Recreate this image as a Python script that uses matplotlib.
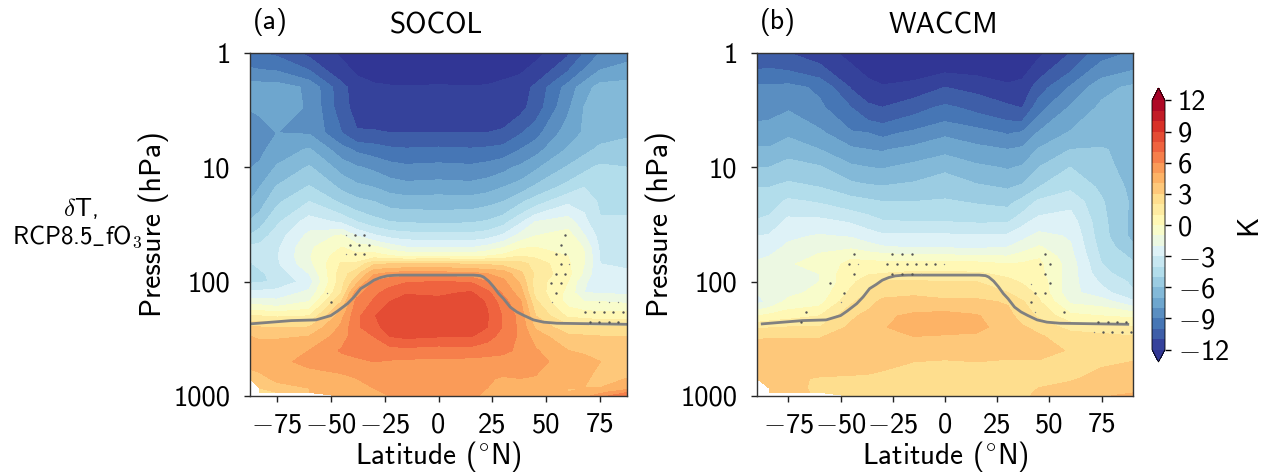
import numpy as np
import matplotlib
matplotlib.use('Agg')
import matplotlib.pyplot as plt

# cmss10 ships with matplotlib, same sans face as the original
plt.rcParams['font.family'] = ['cmss10', 'Lato', 'DejaVu Sans']
plt.rcParams['mathtext.fontset'] = 'cm'
plt.rcParams['axes.formatter.use_mathtext'] = True

nan = np.nan

# pressure levels (hPa), shared by both panels
plev = [1, 2, 3, 5, 7, 10, 15, 20, 30, 40, 50, 60, 70, 85, 100, 125, 150, 200,
        250, 300, 400, 500, 700, 850, 925, 1000]

lat_socol = [-87.5, -83, -75, -60, -45, -38, -30, -22.5, -15, 0, 15, 22.5, 30, 38, 45, 60, 67.5, 75, 87.5]
lat_waccm = [-90, -84, -75, -60, -45, -37, -30, -15, 0, 15, 30, 37, 45, 60, 75, 90]

# temperature change, one list per latitude, top of atmosphere first
dT_socol = [
    [-9.8, -7.5, -7.9, -9.1, -8.5, -8.05, -7.3, -7, -5.9, -4.9, -3.8, -3.9, -4.1, -4.4, -4.2, -2.8, -1.5, 1.2, 3.0, 4, 4.4, 4.5, 3.2, nan, nan, nan],
    [-10.0, -7.5, -7.7, -8.8, -8.3, -7.8, -7.0, -6.5, -5.4, -4.5, -3.7, -3.6, -3.8, -4.2, -4.1, -2.7, -1.5, 1.0, 3.0, 3.9, 4.3, 4.6, 3.6, 3.0, 2.9, nan],
    [-10.2, -7.5, -7.6, -8.0, -7.5, -6.9, -5.9, -5.2, -4.2, -3.5, -3.2, -3.1, -3.2, -3.6, -3.9, -2.5, -1.8, 0.8, 2.9, 3.9, 4.4, 4.8, 4.3, 3.5, 3, nan],
    [-11.3, -8.2, -8.1, -8.1, -6.9, -5.9, -4.9, -4.0, -2.5, -1.7, -1.2, -1.1, -1.3, -2.0, -2.5, -1.8, -1, 1.0, 3.0, 4, 5, 5.2, 4.6, 4, 4, nan],
    [-12.2, -10.7, -10.6, -10, -8.6, -7.4, -6.2, -5.2, -3.2, -0.8, 0, 0.6, 1.1, 1.5, 1.6, 2.0, 3, 4.7, 5.2, 5.5, 6.1, 5.6, 4.7, 4.5, 4.4, 4.2],
    [-12.7, -11.5, -11.4, -10.9, -9.2, -7.9, -6.7, -5.7, -4, -2.0, -0.5, 0.3, 1.2, 2.6, 3.6, 5.5, 6.3, 6.7, 6.8, 6.6, 6.3, 5.8, 5, 4.8, 4.7, 4.6],
    [-13, -11.8, -11.6, -10.9, -9.5, -8.2, -7, -6.0, -4.6, -2.8, -0.8, 0.5, 2.8, 4.8, 6.0, 6.8, 7.1, 7.9, 7.6, 7, 6.4, 6, 5.1, 5, 4.9, 4.8],
    [-13.1, -11.9, -11.6, -11, -9.8, -8.6, -7.4, -6.4, -5, -3.3, -1.5, 0.1, 3, 5.2, 6.7, 7.3, 8.0, 8.7, 8.5, 8.0, 6.5, 5.9, 5.4, 5.2, 5.1, 5],
    [-13.2, -11.9, -11.6, -11, -9.9, -8.8, -7.6, -6.5, -5.1, -3.5, -2, -0.2, 3, 5.5, 6.9, 7.9, 8.4, 8.9, 8.7, 8.2, 6.6, 5.8, 5.6, 5.4, 5.3, 5.2],
    [-13, -11.9, -11.5, -11, -9.8, -8.7, -7.5, -6.5, -5.2, -3.6, -2, -0.1, 3.2, 5.4, 7, 7.8, 8.3, 8.95, 8.5, 8.05, 6.4, 5.8, 5.6, 5.4, 5.3, 5.2],
    [-13.2, -11.9, -11.5, -11, -9.9, -8.8, -7.6, -6.5, -5.1, -3.6, -2.1, -0.3, 2.8, 5.2, 6.9, 8.1, 8.5, 8.9, 8.5, 8.05, 6.5, 5.7, 5.4, 5.3, 5.2, 5.1],
    [-13, -11.9, -11.5, -11, -9.8, -8.6, -7.4, -6.3, -4.9, -3.4, -1.7, 0, 2.8, 5, 6, 7.3, 7.9, 8.1, 8.0, 7.4, 6.3, 5.7, 5.1, 5, 4.9, 4.9],
    [-12.8, -11.7, -11.4, -10.9, -9.6, -8.3, -7, -6.0, -4.4, -2.8, -1.1, 0.3, 2.6, 4.6, 5.2, 5.8, 6.4, 6.9, 6.9, 6.6, 6.2, 5.6, 4.9, 4.8, 4.8, 4.7],
    [-12.6, -11.5, -11.3, -10.1, -9, -7.8, -6.5, -5.2, -3.2, -1.6, -0.2, 1.0, 2.4, 3.2, 3.8, 4.5, 5.1, 5.6, 5.7, 5.8, 5.8, 5.6, 5, 4.8, 4.7, 4.6],
    [-12.3, -10.8, -10.6, -9.4, -8.4, -7.2, -5.8, -4.5, -2.0, -1.0, 0, 0.8, 1.6, 1.8, 1.5, 1.6, 2.2, 3.0, 3.8, 4.5, 5.1, 5.4, 4.9, 4.6, 4.5, 4.4],
    [-11.2, -8.6, -8.2, -7.5, -6.9, -5.9, -4.6, -3.2, -1.5, -0.5, 0, 0, 0.2, 0.3, 0, -0.3, -0.4, 0.8, 2.3, 3.2, 4, 4.4, 4.4, 4, 4, 4],
    [-10, -7.5, -7.0, -6.9, -6.3, -5.3, -4, -3.3, -2.7, -1.9, -1.1, -0.9, -1.0, -1.2, -1.9, -2.0, -1, 0.7, 2.2, 3.1, 3.9, 4.2, 4.1, 4, 4.2, 4.6],
    [-9, -6.6, -6.5, -6.4, -5.8, -4.8, -4.4, -4.2, -3.9, -3.4, -3.2, -3.1, -3, -2.9, -2.4, -2.1, -1, 0.5, 2, 3, 3.8, 4, 3.8, 4, 4.6, 5.5],
    [-8.4, -6.5, -6.5, -6.2, -5.5, -5, -4.5, -4.4, -3.8, -3.5, -3.3, -3.2, -3.1, -2.9, -2.6, -2.2, -1.2, 0.6, 2, 3, 3.8, 4.0, 4, 4.4, 5.8, 7],
]

dT_waccm = [
    [-10.8, -8.8, -8.5, -7.5, -6.9, -6.0, -5.0, -4.6, -3.9, -3, -2.5, -2.1, -1.9, -1.8, -1.9, -2.0, -2.3, 0.0, 1.8, 2.8, 3.6, 3.9, 3.2, nan, nan, nan],
    [-10.7, -8.8, -8.4, -7.5, -6.9, -6.0, -5.0, -4.5, -3.7, -2.9, -2.4, -2.0, -1.7, -1.6, -1.7, -1.8, -1.8, 0.3, 1.9, 2.9, 3.7, 3.9, 3.5, 3.2, 3.1, nan],
    [-11, -8.7, -8.1, -7.2, -6.4, -5.6, -4.7, -3.8, -2.7, -2.2, -1.8, -1.4, -1.1, -1.1, -1.2, -1.3, -0.7, 0.6, 2.0, 2.9, 3.6, 3.8, 3.2, 3.3, 3.4, nan],
    [-11.6, -9.2, -8.8, -7.8, -7, -5.9, -5.0, -4.1, -2.7, -1.9, -1.2, -0.9, -0.7, -1.0, -1.0, -0.7, -0.4, 1, 2, 2.9, 3.6, 3.8, 2.9, 2.8, 2.8, nan],
    [-12.3, -11.1, -10, -8.9, -7.8, -6.8, -5.6, -4.6, -3.1, -2.1, -1.2, -0.2, 0.3, 0.8, 0.8, 1.2, 1.8, 2.8, 3.2, 3.5, 3.8, 3.7, 2.8, 2.6, 2.6, 2.5],
    [-12.8, -11.6, -10.8, -9, -8, -7, -5.8, -4.8, -3.5, -2.5, -1.6, -0.4, 0.3, 0.9, 1.4, 2.0, 2.6, 3.3, 3.6, 3.7, 3.7, 3.5, 2.8, 2.7, 2.7, 2.6],
    [-13, -11.9, -11, -9.3, -8.1, -7.1, -5.9, -5.0, -3.9, -2.8, -1.9, -0.6, 0.3, 1.0, 2.2, 2.7, 3.2, 3.8, 3.9, 3.8, 3.5, 3.2, 2.8, 2.8, 2.8, 2.8],
    [-13.2, -11.6, -10.4, -8.8, -7.7, -6.7, -5.7, -5, -4, -2.8, -2.1, -0.8, 0.3, 1.2, 2.1, 2.8, 3.4, 4.2, 4.5, 4, 3.4, 3.0, 2.8, 2.8, 2.8, 2.8],
    [-13, -11.0, -9.8, -8.2, -7.3, -6.2, -5.4, -4.9, -4, -2.8, -2.1, -0.8, 0.3, 1.2, 2.0, 2.6, 3.2, 4.4, 4.4, 3.9, 3.4, 2.9, 2.7, 2.7, 2.7, 2.8],
    [-13, -11.3, -10.3, -8.6, -7.7, -6.8, -5.8, -5.1, -4.1, -2.9, -2.2, -0.9, 0.3, 1.1, 2.0, 2.6, 3.2, 4.1, 4.3, 3.8, 3.3, 3.0, 2.8, 2.8, 2.8, 2.9],
    [-13.0, -11.8, -10.8, -9.1, -8, -7.1, -6.1, -5.3, -4.1, -2.8, -2.0, -1, 0, 0.8, 1.2, 2, 2.9, 3.3, 3.5, 3.5, 3.3, 2.9, 2.6, 2.6, 2.7, 2.8],
    [-12.7, -11.7, -11.05, -8.9, -7.8, -6.9, -5.8, -4.7, -3.3, -2.3, -1.5, -0.6, 0.1, 0.6, 0.9, 1.4, 2.1, 2.6, 3.1, 3.4, 3.4, 2.9, 2.7, 2.7, 2.8, 2.9],
    [-12.2, -10.5, -9.4, -7.9, -6.9, -6, -5, -3.8, -2.6, -1.7, -0.9, -0.1, 0.2, 0.3, 0.6, 0.8, 1.1, 1.8, 2.7, 3.1, 3.4, 2.9, 2.8, 3.0, 3.1, 3.1],
    [-11, -8.9, -7.9, -6.9, -6, -5, -4.2, -3.3, -2.5, -2.1, -1.9, -1.7, -1.5, -1.5, -1.6, -1.7, -1.2, 0.3, 1.6, 2.5, 2.9, 2.8, 2.9, 3.2, 3.3, 3.3],
    [-9.4, -7.3, -6.8, -6.6, -5.9, -5.7, -5.2, -4.9, -4.7, -4.6, -4.4, -4.2, -4, -3.7, -3.2, -2.6, -1.5, 0, 1.3, 2.3, 2.8, 2.9, 3.2, 3.4, 3.5, 3.7],
    [-8.9, -6.8, -6.6, -6.5, -6.4, -6.4, -6.3, -6.2, -6.3, -6.3, -5.8, -5.2, -4.9, -4.6, -4.2, -3.9, -2.8, -0.2, 1, 2, 2.8, 3, 3.2, 3.5, 3.8, 4.6],
]

# tropopause
trop_lat = [-87.5, -68.3, -56.9, -50, -46.9, -42.3, -39.2, -36.1, -33, -30, -26.9, -23.8, -20.7, -17.6,
            16.4, 19.4, 20.9, 23.3, 25.6, 27.9, 30.2, 33.3, 36.4, 39.5, 44.1, 48.8, 54.9, 87.5]
trop_p = [234, 219, 216, 198, 181, 156, 136, 115, 106, 97, 92, 89, 88, 87.6,
          87.6, 88.6, 91, 99, 111, 127, 141, 167, 184, 197, 216, 226, 231, 236]

# stippling, big dots and the faint small ones
dots_a_lat = [-38.9, -34.6, -41.2, -36.7, -32.3, -38.9, -34.6, -50, 58.8, 56.8, 54.5, 58.8, 56.8, 54.5, 58.8, 52.2, 56.8, 54.5,
              67.9, 72.4, 76.9, 81.2, 85.8, 70.1, 74.5, 79, 83.5]
dots_a_p = [39, 39, 48, 48, 48, 57.6, 57.6, 152, 39, 48, 57.6, 57.6, 70, 85, 85, 103, 103, 125,
            184, 184, 184, 184, 184, 225, 225, 225, 225]
faint_a_lat = [-43, -43, -51.9, 60.8, 52.6, 74.5, 79, 83.5]
faint_a_p = [39, 57.6, 125, 70, 152, 152, 152, 152]

dots_b_lat = [-43.7, -25.2, -20.6, -16, 47.9, -45.9, -27.6, -23, -18.4, -13.8, -9.2, -4.6, 45.7, 50.3,
              -43.7, -25.2, -20.6, -16, 47.9, -55, 50.3, -48.3, 43.3, 47.9, 41, -66.5, 57.1, -68.9,
              73.3, 77.8, 82.2, 86.8, 75.4, 80, 84.6, 89.2]
dots_b_p = [57.6, 57.6, 57.6, 57.6, 57.6, 70, 70, 70, 70, 70, 70, 70, 70, 70,
            85, 85, 85, 85, 85, 103, 103, 125, 125, 125, 152, 184, 184, 225,
            225, 225, 225, 225, 273, 273, 273, 273]
faint_b_lat = [-41.7, -0.3, -11.6, -50, 41, 43.2, 71.1]
faint_b_p = [70, 70, 85, 152, 105, 184, 273]

levels = np.arange(-12, 13, 1)
cbar_ticks = [-12, -9, -6, -3, 0, 3, 6, 9, 12]
xticks = [-75, -50, -25, 0, 25, 50, 75]
yticks = [1, 10, 100, 1000]

fig = plt.figure(figsize=(12.69, 4.75), dpi=100)
W, H = 1269.0, 475.0


def num(v):
    # sans digits from the text font, long minus from mathtext
    if v < 0:
        return r'$-$%d' % abs(v)
    return '%d' % v


def panel(box, lat, dT, dots, faint, letter, title, xlim):
    ax = fig.add_axes([box[0] / W, 1 - box[3] / H, (box[2] - box[0]) / W, (box[3] - box[1]) / H])
    z = np.ma.masked_invalid(np.array(dT).T)
    cf = ax.contourf(lat, plev, z, levels=levels, cmap='RdYlBu_r', extend='both')
    cf.set_edgecolor('face')
    cf.set_linewidth(0.3)
    ax.plot(trop_lat, trop_p, color='#808080', lw=2)
    ax.scatter(dots[0], dots[1], s=3, color='#555555', lw=0, zorder=3)
    ax.scatter(faint[0], faint[1], s=1, color='#888888', lw=0, zorder=3)
    ax.set_yscale('log')
    ax.set_ylim(1000, 1)
    ax.set_xlim(xlim)
    ax.set_xticks(xticks)
    ax.set_xticklabels([num(v) for v in xticks])
    ax.set_yticks(yticks)
    ax.set_yticklabels([num(v) for v in yticks])
    ax.minorticks_off()
    ax.tick_params(labelsize=20.5, length=4, width=1, color='#222222')
    ax.tick_params(axis='x', pad=8)
    ax.tick_params(axis='y', pad=10)
    ax.set_xlabel(r'Latitude ($^{\circ}$N)', fontsize=21, labelpad=1)
    ax.set_ylabel('Pressure (hPa)', fontsize=21.5, labelpad=3)
    for s in ax.spines.values():
        s.set_color('#333333')
        s.set_linewidth(1)
    ax.text(0.008, 1.09, letter, transform=ax.transAxes, fontsize=20, ha='left', va='center')
    ax.text(0.495, 1.08, title, transform=ax.transAxes, fontsize=21, ha='center', va='center')
    return cf


cf = panel((250, 53, 627, 396), lat_socol, dT_socol, (dots_a_lat, dots_a_p), (faint_a_lat, faint_a_p),
           '(a)', 'SOCOL', (-87.5, 87.5))
panel((757, 53, 1133, 396), lat_waccm, dT_waccm, (dots_b_lat, dots_b_p), (faint_b_lat, faint_b_p),
      '(b)', 'WACCM', (-90, 90))

cax = fig.add_axes([1152 / W, 1 - 362 / H, 13 / W, 274 / H])
cb = fig.colorbar(cf, cax=cax, ticks=cbar_ticks, extend='both')
cb.ax.set_yticklabels([num(v) for v in cbar_ticks])
cb.ax.tick_params(labelsize=20.5, length=4, width=1, pad=5)
cb.outline.set_linewidth(0.6)
cb.set_label('K', fontsize=21, labelpad=5)

fig.text(80 / W, 1 - 208 / H, r'$\delta$T,', fontsize=18, ha='center', va='center')
fig.text(77 / W, 1 - 237 / H, r'RCP8.5$\_$fO$_3$', fontsize=18, ha='center', va='center')

fig.savefig('out.png', dpi=100)
